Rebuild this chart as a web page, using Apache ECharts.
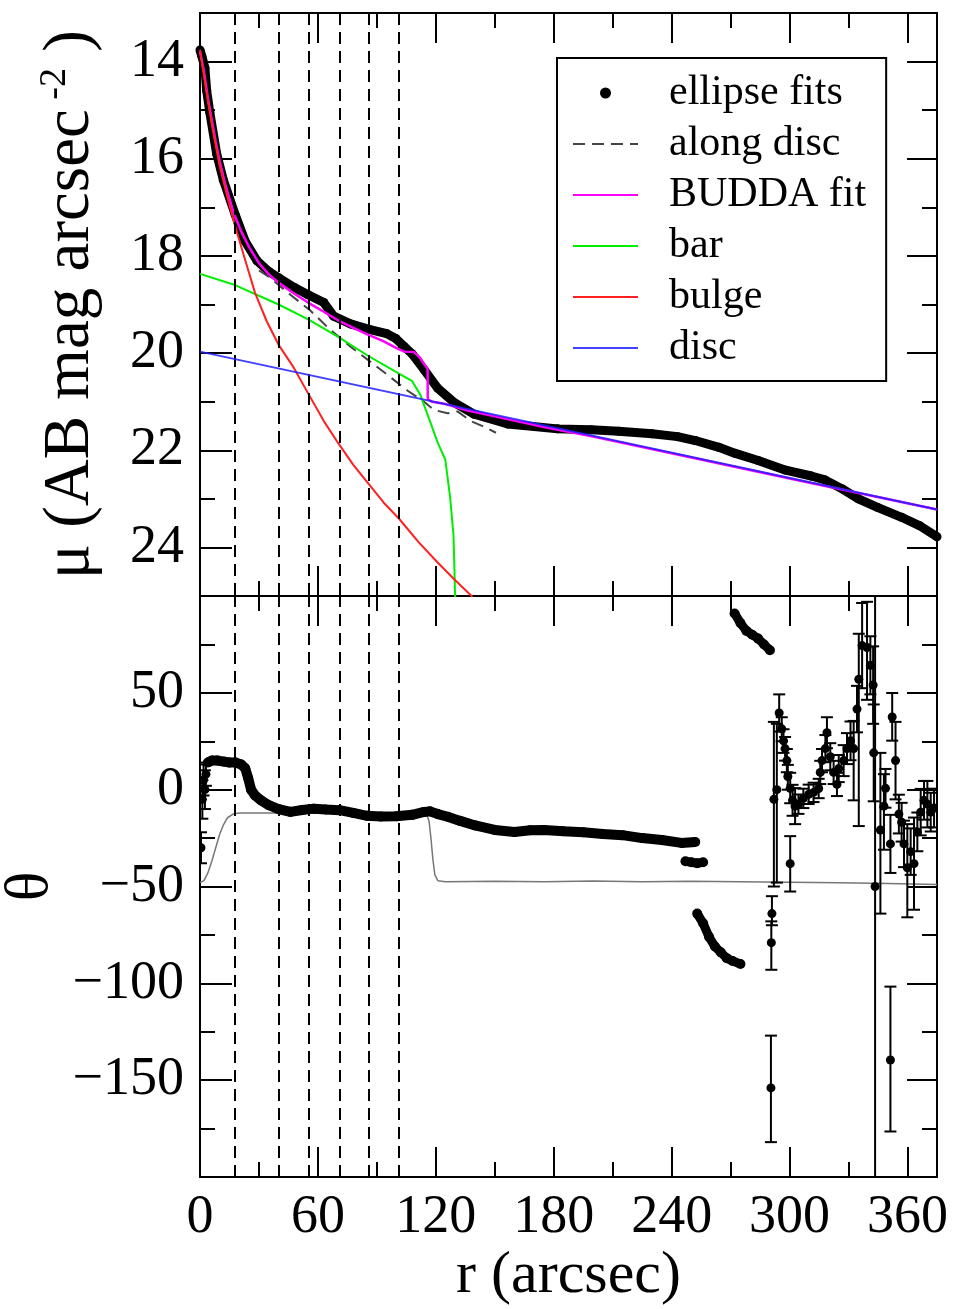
<!DOCTYPE html>
<html>
<head>
<meta charset="utf-8">
<script src="https://cdn.jsdelivr.net/npm/echarts@6/dist/echarts.min.js"></script>
<style>
  html, body { margin: 0; padding: 0; background: #fff; }
  #main { width: 960px; height: 1309px; }
</style>
</head>
<body>
<div id="main"></div>
<script>
// --- surface brightness profile (top panel) ---
const fitR  = [0, 1, 2.5, 3.4, 5, 8.5, 11.9, 17.9, 23, 29, 35, 40, 48, 55, 63, 68, 76.6, 86, 95, 99.6, 104, 108, 114, 120.9, 129.4, 139.6, 156.6, 182, 199, 213, 230, 243, 252, 264, 272, 284, 298, 311, 318, 327, 335, 345, 357, 366, 375];
const fitMu = [13.76, 13.9, 14.13, 14.6, 15.05, 15.9, 16.44, 17.15, 17.7, 18.1, 18.32, 18.45, 18.65, 18.8, 18.96, 19.24, 19.4, 19.51, 19.6, 19.7, 19.87, 20.02, 20.34, 20.72, 21.02, 21.26, 21.46, 21.56, 21.58, 21.61, 21.66, 21.72, 21.8, 21.94, 22.06, 22.21, 22.41, 22.53, 22.61, 22.8, 23.0, 23.18, 23.38, 23.55, 23.78];

const alongR  = [30, 35.7, 46, 56, 66, 76.6, 86.8, 97, 105.5, 114, 119, 126, 131, 137.9, 144.7, 150.6];
const alongMu = [18.3, 18.45, 18.8, 19.12, 19.51, 19.87, 20.18, 20.5, 20.77, 21.0, 21.17, 21.24, 21.2, 21.4, 21.52, 21.64];

const buddaR  = [0, 2, 4, 6, 8, 10, 13, 17, 21, 25, 30, 35, 40, 48, 55, 63, 70, 78, 86, 93, 100, 104, 109, 112, 114.5, 115.8, 115.9, 118, 125, 135, 150, 175, 200, 250, 300, 375];
const buddaMu = [13.8, 14.2, 14.75, 15.2, 15.65, 16.05, 16.55, 17.1, 17.5, 17.82, 18.15, 18.38, 18.55, 18.78, 18.96, 19.15, 19.32, 19.48, 19.63, 19.75, 19.9, 19.97, 19.98, 20.1, 20.25, 20.32, 20.95, 21.0, 21.05, 21.17, 21.3, 21.52, 21.72, 22.15, 22.58, 23.22];

const barR  = [0, 17.8, 40, 55.3, 70.5, 85.7, 101, 107.8, 112, 117, 121, 124.8, 127.3, 129, 130];
const barMu = [18.37, 18.6, 19.0, 19.31, 19.67, 20.06, 20.42, 20.57, 20.85, 21.4, 21.85, 22.19, 22.98, 23.76, 25.3];

const bulgeR  = [0, 3, 6, 10, 14, 17.9, 22, 28, 34, 40, 47.7, 55.3, 63, 70.6, 78, 86, 93.5, 101.3, 111, 120.9, 130, 138.7];
const bulgeMu = [13.76, 14.55, 15.3, 16.15, 16.8, 17.39, 17.95, 18.76, 19.35, 19.83, 20.3, 20.85, 21.4, 21.87, 22.3, 22.7, 23.08, 23.41, 23.88, 24.31, 24.68, 25.02];

const discR  = [0, 375];
const discMu = [19.97, 23.22];

// radii of the vertical dashed markers
const markR = [17.5, 40, 55.5, 71, 86, 101];

// --- position angle (bottom panel) ---
const paR = [4, 6, 9, 12, 15, 18, 21, 23, 24.5, 26, 28, 31, 35, 40, 46, 52, 58, 64, 71, 78, 85, 92, 100, 108, 114, 117, 121, 126, 132, 140, 150, 160, 168, 175, 185, 195, 205, 215, 225, 235, 245, 252];
const paTheta = [14, 15, 15, 14.5, 14, 14, 13, 11, 6, 0, -3, -5.5, -8, -10, -11.5, -10.5, -9.8, -10.2, -10.6, -12, -13.5, -13.8, -13.7, -13, -11.5, -11.2, -12.6, -14, -16, -18.5, -20.8, -21.9, -21, -20.8, -21.5, -22, -22.9, -23.5, -25, -26, -27.5, -27];

const blobR = [247, 250, 253, 256];
const blobTheta = [-37, -37.5, -38, -37.5];

const lowR = [253, 256, 259, 262, 265, 268, 271, 275];
const lowTheta = [-64, -69, -76, -81, -84, -87, -88.5, -90];

const highR = [272, 275, 278, 281, 284, 287, 290];
const highTheta = [91, 86, 82, 80, 78, 75, 72];

const modelR = [0, 2, 4, 6, 8, 10, 12, 14, 17, 20, 40, 60, 80, 100, 115, 116.5, 117.5, 118.5, 119.5, 121, 125, 150, 175, 200, 225, 250, 275, 300, 325, 350, 375];
const modelTheta = [-48, -47, -43, -37, -30, -23, -18, -14.5, -12.5, -12, -12, -12, -12, -12, -12, -16, -25, -36, -44, -47, -47.5, -47.3, -47.5, -47.2, -47.6, -47.3, -47.5, -47.8, -48, -48.5, -49];

// noisy fits with error bars: r, theta, lower, upper
const errR     = [0.5, 1.2, 1.8, 2.5, 3, 290.5, 290.7, 291, 292, 293.5, 294.7, 296, 296.9, 297.7, 298.6, 299.1, 300.3, 300.3, 301.5, 302.8, 304.5, 307, 309.7, 312.2, 314.8, 315.6, 316.5, 318.2, 319, 320.7, 322.4, 324.1, 325, 327.5, 329.2, 331, 332.6, 334.3, 335.2, 336.9, 339.4, 341.1, 342.5, 342.8, 343.5, 346.2, 348, 348.8, 351.3, 351.3, 352.2, 353.9, 355.6, 357, 358.2, 359.9, 361.6, 363.3, 365, 366.7, 368.4, 370.1, 371.8, 373.5];
const errTheta = [-30, -5, 5, 0, 8, -154, -79, -64, -5, 0, 39.6, 31.4, 25.2, 21.2, 15, 6.8, 0.7, -38.2, -5.5, -8.5, -7.5, -4.5, -2.4, -1.4, 0.6, 8.9, 15, 21.2, 29.4, 17, 8.9, 2.7, 10.9, 15, 21.2, 25.2, 21.2, 41.6, 57, 74.4, 73.4, 64.2, 54, 19, -50, -20.8, -8.5, 0.7, -28, -139.6, 37.5, 15, -12.6, -16.8, -28, -40.3, -32, -38.2, -21.8, -11.6, -5.5, -7.5, -11.6, -9.5];
const errLo    = [-38, -15, -3, -10, 2, -182, -93, -70, -50, -48, 30, 25, 19, 15, 9, 0, -7, -52.6, -13.5, -17.8, -12.5, -9.5, -7.4, -6.4, -4.4, 2.9, 9, 14.2, 21.4, 10, 2.9, -3.3, 3.9, 7, 13.2, 15.2, -5.5, 29.6, -18.8, 52.4, 46.4, 49.2, 34, -6, -200, -64, -31, -9.3, -43, -176.5, 25.3, -5, -22.6, -26.8, -40, -65.9, -44, -62, -31.8, -23.6, -15.5, -19.5, -21.6, -19.5];
const errHi    = [-22, 5, 13, 10, 14, -127, -68, -55, 35, 34, 49.2, 37.4, 31.2, 27.2, 21, 12.8, 8.7, -24, 2.5, 0.8, -2.5, 0.5, 2.6, 3.6, 5.6, 14.9, 21, 28.2, 37.4, 24, 14.9, 8.7, 17.9, 23, 29.2, 35.2, 35.5, 53.6, 80.5, 96.4, 97, 79.2, 74, 44, 100, 19, 8, 10.7, -13, -101.7, 49.9, 35, -2.6, -6.8, -16, -17.8, -20, -14.4, -11.8, 0.4, 4.5, 4.5, -1.6, 0.5];

const zip = (xs, ys) => xs.map((x, i) => [x, ys[i]]);

const chart = echarts.init(document.getElementById('main'));

const serif = 'Liberation Serif';
const black = '#000';

const xCommon = {
  type: 'value', min: 0, max: 375, interval: 60,
  splitLine: { show: false },
  axisLine: { onZero: false, lineStyle: { color: black, width: 2 } },
  axisTick: { inside: true, length: 30, lineStyle: { color: black, width: 2 } },
  minorTick: { show: true, splitNumber: 2, length: 15, lineStyle: { color: black, width: 2 } },
  axisLabel: { show: false }
};

const yTopCommon = {
  type: 'value', gridIndex: 0, min: 13, max: 25, splitNumber: 6, inverse: true,
  splitLine: { show: false },
  axisLine: { onZero: false, lineStyle: { color: black, width: 2 } },
  axisTick: { inside: true, length: 32, lineStyle: { color: black, width: 2 } },
  minorTick: { show: true, splitNumber: 2, length: 15, lineStyle: { color: black, width: 2 } },
  axisLabel: { show: false }
};

const yBotCommon = {
  type: 'value', gridIndex: 1, min: -200, max: 100, interval: 50,
  splitLine: { show: false },
  axisLine: { onZero: false, lineStyle: { color: black, width: 2 } },
  axisTick: { inside: true, length: 32, lineStyle: { color: black, width: 2 } },
  minorTick: { show: true, splitNumber: 2, length: 15, lineStyle: { color: black, width: 2 } },
  axisLabel: { show: false }
};

const dashed = {
  silent: true, symbol: 'none', animation: false,
  label: { show: false },
  lineStyle: { color: black, width: 2, type: [12, 7] },
  data: markR.map(r => ({ xAxis: r }))
};

const option = {
  backgroundColor: '#fff',
  animation: false,
  grid: [
    { left: 200, top: 13, width: 737, height: 583, outerBoundsMode: 'none', containLabel: false },
    { left: 200, top: 596, width: 737, height: 581, outerBoundsMode: 'none', containLabel: false }
  ],
  legend: {
    left: 557, top: 58,
    orient: 'vertical',
    backgroundColor: '#fff',
    borderColor: black, borderWidth: 2,
    padding: [14, 20, 12, 15],
    itemGap: 9,
    itemWidth: 65, itemHeight: 11,
    itemStyle: { opacity: 0 },
    textStyle: { fontFamily: serif, fontSize: 42, lineHeight: 40, color: black, padding: [0, 0, 0, 26] },
    selectedMode: false,
    data: [
      { name: 'ellipse fits', icon: 'circle', itemStyle: { opacity: 1, color: black } },
      'along disc', 'BUDDA fit', 'bar', 'bulge', 'disc'
    ]
  },
  xAxis: [
    Object.assign({}, xCommon, { gridIndex: 0, position: 'bottom' }),
    Object.assign({}, xCommon, { gridIndex: 0, position: 'top' }),
    Object.assign({}, xCommon, {
      gridIndex: 1, position: 'bottom',
      name: 'r (arcsec)', nameLocation: 'middle', nameGap: 62,
      nameTextStyle: { fontFamily: serif, fontSize: 60, color: black },
      axisLabel: {
        show: true, margin: 14, fontFamily: serif, fontSize: 54, color: black,
        showMaxLabel: false,
        formatter: v => (v % 60 === 0 ? String(v) : '')
      }
    }),
    Object.assign({}, xCommon, { gridIndex: 1, position: 'top' })
  ],
  yAxis: [
    Object.assign({}, yTopCommon, {
      position: 'left',
      name: '{t|μ (AB mag arcsec}{s| -2}{t| )}',
      nameLocation: 'middle', nameGap: 94,
      nameTextStyle: {
        color: black,
        rich: {
          t: { fontFamily: serif, fontSize: 65, lineHeight: 70, color: black },
          s: { fontFamily: serif, fontSize: 38, lineHeight: 38, verticalAlign: 'top', color: black }
        }
      },
      axisLabel: {
        show: true, margin: 16, fontFamily: serif, fontSize: 54, color: black,
        formatter: v => (v % 2 === 0 ? String(v) : '')
      }
    }),
    Object.assign({}, yTopCommon, { position: 'right', axisTick: Object.assign({}, yTopCommon.axisTick, { length: 30 }) }),
    Object.assign({}, yBotCommon, {
      position: 'left',
      name: 'θ', nameLocation: 'middle', nameGap: 132,
      nameTextStyle: { fontFamily: serif, fontSize: 62, color: black },
      axisLabel: {
        show: true, margin: 16, fontFamily: serif, fontSize: 54, color: black,
        showMinLabel: false, showMaxLabel: false,
        formatter: v => String(v).replace('-', '\u2212')
      }
    }),
    Object.assign({}, yBotCommon, { position: 'right', axisTick: Object.assign({}, yBotCommon.axisTick, { length: 30 }) })
  ],
  series: [
    // top panel
    {
      name: 'ellipse fits', type: 'line', xAxisIndex: 0, yAxisIndex: 0,
      data: zip(fitR, fitMu), color: black,
      symbol: 'circle', symbolSize: 9,
      lineStyle: { color: black, width: 9 },
      itemStyle: { color: black },
      markLine: dashed, z: 2
    },
    {
      name: 'along disc', type: 'line', xAxisIndex: 0, yAxisIndex: 0,
      data: zip(alongR, alongMu), color: '#444', symbol: 'none',
      lineStyle: { color: '#444', width: 2, type: [12, 7] }, z: 3
    },
    {
      name: 'BUDDA fit', type: 'line', xAxisIndex: 0, yAxisIndex: 0,
      data: zip(buddaR, buddaMu), color: '#ff00ff', symbol: 'none',
      lineStyle: { color: '#ff00ff', width: 2.5 }, z: 4
    },
    {
      name: 'bar', type: 'line', xAxisIndex: 0, yAxisIndex: 0,
      data: zip(barR, barMu), color: '#00ee00', symbol: 'none',
      lineStyle: { color: '#00ee00', width: 2 }, z: 4
    },
    {
      name: 'bulge', type: 'line', xAxisIndex: 0, yAxisIndex: 0,
      data: zip(bulgeR, bulgeMu), color: '#ff2020', symbol: 'none',
      lineStyle: { color: '#ff2020', width: 2 }, z: 4
    },
    {
      name: 'disc', type: 'line', xAxisIndex: 0, yAxisIndex: 0,
      data: zip(discR, discMu), color: '#2020ff', symbol: 'none',
      lineStyle: { color: '#2020ff', width: 2, opacity: 0.85 }, z: 5
    },
    // bottom panel
    {
      name: 'pa model', type: 'line', xAxisIndex: 2, yAxisIndex: 2,
      data: zip(modelR, modelTheta), symbol: 'none',
      lineStyle: { color: '#777', width: 1.5 },
      markLine: dashed, z: 2
    },
    {
      name: 'pa fits', type: 'line', xAxisIndex: 2, yAxisIndex: 2,
      data: zip(paR, paTheta), symbol: 'circle', symbolSize: 10,
      itemStyle: { color: black }, lineStyle: { color: black, width: 10 }, z: 3
    },
    {
      name: 'pa blob', type: 'line', xAxisIndex: 2, yAxisIndex: 2,
      data: zip(blobR, blobTheta), symbol: 'circle', symbolSize: 10,
      itemStyle: { color: black }, lineStyle: { color: black, width: 9 }, z: 3
    },
    {
      name: 'pa low', type: 'line', xAxisIndex: 2, yAxisIndex: 2,
      data: zip(lowR, lowTheta), symbol: 'circle', symbolSize: 10,
      itemStyle: { color: black }, lineStyle: { color: black, width: 9 }, z: 3
    },
    {
      name: 'pa high', type: 'line', xAxisIndex: 2, yAxisIndex: 2,
      data: zip(highR, highTheta), symbol: 'circle', symbolSize: 10,
      itemStyle: { color: black }, lineStyle: { color: black, width: 9 }, z: 3
    },
    {
      name: 'pa errors', type: 'custom', xAxisIndex: 2, yAxisIndex: 2,
      clip: true, z: 4,
      data: errR.map((r, i) => [r, errTheta[i], errLo[i], errHi[i]]),
      encode: { x: 0, y: 1 },
      renderItem: (params, api) => {
        const p = api.coord([api.value(0), api.value(1)]);
        const lo = api.coord([api.value(0), api.value(2)]);
        const hi = api.coord([api.value(0), api.value(3)]);
        const w = 6;
        const st = { stroke: black, lineWidth: 2 };
        return {
          type: 'group',
          children: [
            { type: 'line', shape: { x1: p[0], y1: lo[1], x2: p[0], y2: hi[1] }, style: st },
            { type: 'line', shape: { x1: p[0] - w, y1: lo[1], x2: p[0] + w, y2: lo[1] }, style: st },
            { type: 'line', shape: { x1: p[0] - w, y1: hi[1], x2: p[0] + w, y2: hi[1] }, style: st },
            { type: 'circle', shape: { cx: p[0], cy: p[1], r: 4.5 }, style: { fill: black } }
          ]
        };
      }
    }
  ]
};

chart.setOption(option);
</script>
</body>
</html>
